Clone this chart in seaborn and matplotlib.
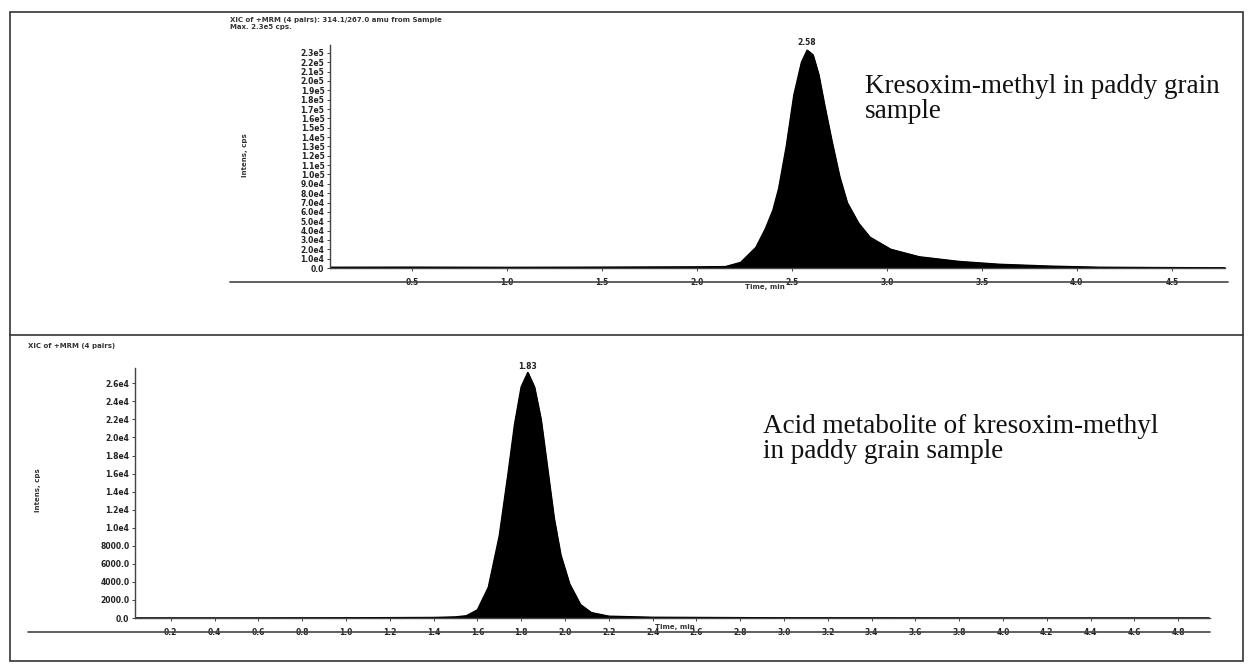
import numpy as np
import pandas as pd
import matplotlib
matplotlib.use("Agg")
import matplotlib.pyplot as plt
from matplotlib.lines import Line2D
from matplotlib.patches import Rectangle
import seaborn as sns

# ---------------- data ----------------
# Top chromatogram: Kresoxim-methyl (time in min, intensity in cps)
top_time = [0.07, 0.5, 1.0, 1.5, 2.0, 2.15, 2.23, 2.31, 2.36, 2.40, 2.43, 2.47,
            2.51, 2.55, 2.58, 2.61, 2.64, 2.67, 2.71, 2.75, 2.79, 2.85, 2.91,
            3.02, 3.17, 3.38, 3.59, 3.86, 4.12, 4.40, 4.65, 4.78]
top_int = [800, 900, 700, 900, 1200, 1500, 6000, 22000, 42000, 62000, 85000,
           130000, 185000, 220000, 233000, 228000, 207000, 175000, 135000,
           98000, 70000, 48000, 33000, 20000, 12000, 7000, 4000, 2000, 800,
           500, 300, 200]

# Bottom chromatogram: acid metabolite
bot_time = [0.04, 0.5, 1.0, 1.4, 1.5, 1.55, 1.6, 1.65, 1.7, 1.74, 1.77, 1.8,
            1.83, 1.86, 1.89, 1.92, 1.95, 1.98, 2.02, 2.07, 2.12, 2.2, 2.4,
            3.0, 4.0, 4.94]
bot_int = [0, 0, 20, 60, 120, 250, 900, 3400, 9100, 16000, 21500, 25600,
           27200, 25600, 22000, 16500, 11000, 7000, 3800, 1500, 600, 200, 80,
           20, 0, 0]

top_yticks = [i * 1e4 for i in range(24)]
top_ylabels = ["0.0"] + [f"{i}.0e4" for i in range(1, 10)] + \
              [f"{i/10:.1f}e5" for i in range(10, 24)]
top_xticks = [0.5, 1.0, 1.5, 2.0, 2.5, 3.0, 3.5, 4.0, 4.5]

bot_yticks = [i * 2000 for i in range(14)]
bot_ylabels = ["0.0", "2000.0", "4000.0", "6000.0", "8000.0", "1.0e4", "1.2e4",
               "1.4e4", "1.6e4", "1.8e4", "2.0e4", "2.2e4", "2.4e4", "2.6e4"]
bot_xticks = [round(0.2 * i, 1) for i in range(1, 25)]

label_top = "Kresoxim-methyl in paddy grain\nsample"
label_bot = "Acid metabolite of kresoxim-methyl\nin paddy grain sample"

# ---------------- figure ----------------
sns.set_style("ticks")
plt.rcParams["font.family"] = ["DejaVu Sans"]

W, H = 1253, 671
fig = plt.figure(figsize=(W / 100, H / 100), dpi=100)


def fx(px):
    return px / W


def fy(py):
    return 1 - py / H


# outer frame and divider
fig.add_artist(Rectangle((fx(10), fy(661)), fx(1243) - fx(10), fy(12) - fy(661),
                         transform=fig.transFigure, fill=False, lw=1.2,
                         edgecolor="#333333"))
fig.add_artist(Line2D([fx(10), fx(1243)], [fy(335), fy(335)],
                      transform=fig.transFigure, lw=1.2, color="#333333"))


def make_axes(left, right, top, bottom):
    return fig.add_axes([fx(left), fy(bottom), fx(right) - fx(left),
                         fy(top) - fy(bottom)])


tick_font = dict(fontsize=5.5, fontweight="bold", color="#222222")

# ---- top panel ----
ax1 = make_axes(330, 1225, 45, 268)
df1 = pd.DataFrame({"time": top_time, "intensity": top_int})
sns.lineplot(data=df1, x="time", y="intensity", ax=ax1, color="black", lw=1.0)
ax1.fill_between(df1["time"], df1["intensity"], color="black")
ax1.set_xlim(0.068, 4.78)
ax1.set_ylim(0, 238500)
ax1.set_yticks(top_yticks)
ax1.set_yticklabels(top_ylabels, **tick_font)
ax1.set_xticks(top_xticks)
ax1.set_xticklabels([f"{v:.1f}" for v in top_xticks], **tick_font)
ax1.set_xlabel("")
ax1.set_ylabel("")
ax1.tick_params(axis="both", length=2, width=0.6, pad=2)
ax1.tick_params(axis="x", pad=5)
sns.despine(ax=ax1)
for s in ("left", "bottom"):
    ax1.spines[s].set_linewidth(1.0)
    ax1.spines[s].set_color("#444444")
ax1.text(2.58, 236000, "2.58", ha="center", va="bottom", **tick_font)

# ---- bottom panel ----
ax2 = make_axes(135, 1210, 368, 618)
df2 = pd.DataFrame({"time": bot_time, "intensity": bot_int})
sns.lineplot(data=df2, x="time", y="intensity", ax=ax2, color="black", lw=1.0)
ax2.fill_between(df2["time"], df2["intensity"], color="black")
ax2.set_xlim(0.037, 4.945)
ax2.set_ylim(0, 27700)
ax2.set_yticks(bot_yticks)
ax2.set_yticklabels(bot_ylabels, **tick_font)
ax2.set_xticks(bot_xticks)
ax2.set_xticklabels([f"{v:.1f}" for v in bot_xticks], **tick_font)
ax2.set_xlabel("")
ax2.set_ylabel("")
ax2.tick_params(axis="both", length=2, width=0.6, pad=2)
ax2.tick_params(axis="x", pad=5)
sns.despine(ax=ax2)
for s in ("left", "bottom"):
    ax2.spines[s].set_linewidth(1.0)
    ax2.spines[s].set_color("#444444")
ax2.text(1.83, 27400, "1.83", ha="center", va="bottom", **tick_font)

# lines beneath the x axes
fig.add_artist(Line2D([fx(230), fx(1228)], [fy(282), fy(282)],
                      transform=fig.transFigure, lw=1.2, color="#444444"))
fig.add_artist(Line2D([fx(28), fx(1210)], [fy(632), fy(632)],
                      transform=fig.transFigure, lw=1.2, color="#444444"))

# axis titles of the instrument printouts
small = dict(fontsize=5, fontweight="bold", color="#333333")
fig.text(fx(765), fy(287), "Time, min", ha="center", va="center", **small)
fig.text(fx(675), fy(627), "Time, min", ha="center", va="center", **small)
fig.text(fx(245), fy(155), "Intens, cps", ha="center", va="center",
         rotation=90, **small)
fig.text(fx(38), fy(490), "Intens, cps", ha="center", va="center",
         rotation=90, **small)
fig.text(fx(230), fy(20), "XIC of +MRM (4 pairs): 314.1/267.0 amu from Sample",
         ha="left", va="center", **small)
fig.text(fx(230), fy(27), "Max. 2.3e5 cps.", ha="left", va="center", **small)
fig.text(fx(28), fy(346), "XIC of +MRM (4 pairs)", ha="left", va="center",
         **small)

# sample descriptions
serif = dict(fontsize=19.5, family=["Liberation Serif"], color="#111111",
             linespacing=1.0)
fig.text(fx(865), fy(118), label_top, ha="left", va="baseline", **serif)
fig.text(fx(763), fy(458), label_bot, ha="left", va="baseline", **serif)

fig.savefig("out.png", dpi=100)
